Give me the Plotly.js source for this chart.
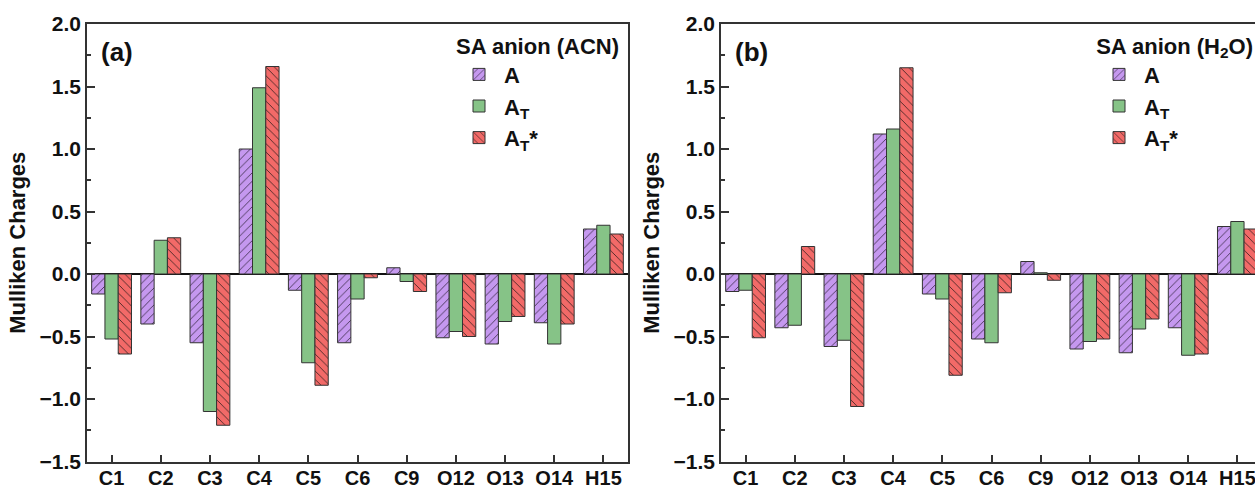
<!DOCTYPE html>
<html>
<head>
<meta charset="utf-8">
<script src="https://cdn.plot.ly/plotly-3.0.1.min.js"></script>
<style>
  html, body { margin: 0; padding: 0; background: #ffffff; overflow: hidden; }
  #chart { width: 1265px; height: 491px; }
</style>
</head>
<body>
<div id="chart"></div>
<script>
// Atom labels (categories)
const categories = ['C1', 'C2', 'C3', 'C4', 'C5', 'C6', 'C9', 'O12', 'O13', 'O14', 'H15'];

// Panel (a): SA anion in ACN — Mulliken charges
const acnA   = [-0.16, -0.40, -0.55, 1.00, -0.13, -0.55,  0.05, -0.51, -0.56, -0.39, 0.36];
const acnAT  = [-0.52,  0.27, -1.10, 1.49, -0.71, -0.20, -0.06, -0.46, -0.38, -0.56, 0.39];
const acnATs = [-0.64,  0.29, -1.21, 1.66, -0.89, -0.03, -0.14, -0.50, -0.34, -0.40, 0.32];

// Panel (b): SA anion in H2O — Mulliken charges
const h2oA   = [-0.14, -0.43, -0.58, 1.12, -0.16, -0.52,  0.10, -0.60, -0.63, -0.43, 0.38];
const h2oAT  = [-0.13, -0.41, -0.53, 1.16, -0.20, -0.55,  0.01, -0.54, -0.44, -0.65, 0.42];
const h2oATs = [-0.51,  0.22, -1.06, 1.65, -0.81, -0.15, -0.05, -0.52, -0.36, -0.64, 0.36];

// Series names and legend titles
const seriesNames = ['A', 'A<sub>T</sub>', 'A<sub>T</sub>*'];
const legendTitles = ['SA anion (ACN)', 'SA anion (H<sub>2</sub>O)'];
const panelLabels = ['(a)', '(b)'];
const yTitle = 'Mulliken Charges';

const FONT = 'Liberation Sans, Arial, sans-serif';
const styles = [
  { color: '#c598ef', pattern: { shape: '/', bgcolor: '#c598ef', fgcolor: '#3b2d4a', fillmode: 'replace', size: 6, solidity: 0.14 } },
  { color: '#86c387', pattern: { shape: '' } },
  { color: '#f26a68', pattern: { shape: '\\', bgcolor: '#f26a68', fgcolor: '#3a2222', fillmode: 'replace', size: 6, solidity: 0.14 } }
];

function makeTraces(seriesList, xa, ya, legendId) {
  return seriesList.map((vals, i) => ({
    type: 'bar',
    x: categories,
    y: vals,
    name: seriesNames[i],
    xaxis: xa,
    yaxis: ya,
    legend: legendId,
    marker: {
      color: styles[i].color,
      pattern: styles[i].pattern,
      line: { color: '#333333', width: 1 }
    },
    hoverinfo: 'x+y+name'
  }));
}

const traces = [
  ...makeTraces([acnA, acnAT, acnATs], 'x', 'y', 'legend'),
  ...makeTraces([h2oA, h2oAT, h2oATs], 'x2', 'y2', 'legend2')
];

const W = 1265, H = 491;
const yDomain = [1 - 461.5 / H, 1 - 24 / H];
const xDomA = [87 / W, 628 / W];
const xDomB = [721 / W, 1262 / W];
const boundaries = categories.slice(0, -1).map((c, i) => i + 0.5);

function catAxis(domain, anchor) {
  return {
    domain: domain, anchor: anchor, type: 'category',
    range: [-0.5, categories.length - 0.5],
    showline: true, mirror: true, linecolor: '#333333', linewidth: 1.5,
    ticks: 'inside', ticklen: 7, tickwidth: 1.5, tickcolor: '#333333',
    ticklabelstandoff: -2,
    showgrid: false, zeroline: false,
    tickfont: { family: FONT, size: 20, color: '#111111', weight: 'bold' }
  };
}
function minorAxis(domain, overlay, anchor) {
  return {
    domain: domain, overlaying: overlay, anchor: anchor, type: 'linear',
    range: [-0.5, categories.length - 0.5],
    tickmode: 'array', tickvals: boundaries,
    ticks: 'inside', ticklen: 4, tickwidth: 1.5, tickcolor: '#333333',
    showticklabels: false, showline: false, showgrid: false, zeroline: false,
    side: 'bottom', fixedrange: true
  };
}
function valAxis(anchor) {
  return {
    domain: yDomain, anchor: anchor,
    range: [-1.5, 2.0], dtick: 0.5, tick0: 0, tickformat: '.1f',
    showline: true, mirror: true, linecolor: '#333333', linewidth: 1.5,
    ticks: 'inside', ticklen: 8, tickwidth: 1.5, tickcolor: '#333333',
    minor: { dtick: 0.25, ticks: 'inside', ticklen: 4, tickwidth: 1.5, tickcolor: '#333333', showgrid: false },
    showgrid: false,
    zeroline: true, zerolinecolor: '#111111', zerolinewidth: 1.5,
    tickfont: { family: FONT, size: 21, color: '#111111', weight: 'bold' },
    title: { text: yTitle, standoff: 8, font: { family: FONT, size: 22, color: '#111111', weight: 'bold' } }
  };
}
function legendCfg(xRight, title) {
  return {
    x: xRight, xanchor: 'right', y: 1 - 25 / H, yanchor: 'top',
    bgcolor: 'rgba(0,0,0,0)', borderwidth: 0,
    font: { family: FONT, size: 22, color: '#111111', weight: 'bold' },
    tracegroupgap: 3,
    itemwidth: 40,
    title: { text: title, side: 'top right', font: { family: FONT, size: 22, color: '#111111', weight: 'bold' } }
  };
}

const layout = {
  width: W, height: H,
  margin: { l: 0, r: 0, t: 0, b: 0 },
  paper_bgcolor: '#ffffff', plot_bgcolor: '#ffffff',
  barmode: 'group', bargap: 0.19, bargroupgap: 0,
  showlegend: true,
  xaxis: catAxis(xDomA, 'y'),
  yaxis: valAxis('x'),
  xaxis2: catAxis(xDomB, 'y2'),
  yaxis2: valAxis('x2'),
  xaxis3: minorAxis(xDomA, 'x', 'y'),
  xaxis4: minorAxis(xDomB, 'x2', 'y2'),
  legend: legendCfg(621 / W, legendTitles[0]),
  legend2: legendCfg(1255 / W, legendTitles[1]),
  annotations: [
    { xref: 'x domain', yref: 'y domain', x: 0.022, y: 0.935, xanchor: 'left', yanchor: 'middle',
      text: panelLabels[0], showarrow: false, font: { family: FONT, size: 26, color: '#111111', weight: 'bold' } },
    { xref: 'x2 domain', yref: 'y2 domain', x: 0.022, y: 0.935, xanchor: 'left', yanchor: 'middle',
      text: panelLabels[1], showarrow: false, font: { family: FONT, size: 26, color: '#111111', weight: 'bold' } }
  ]
};

Plotly.newPlot('chart', traces, layout, { displayModeBar: false, responsive: false });
</script>
</body>
</html>
